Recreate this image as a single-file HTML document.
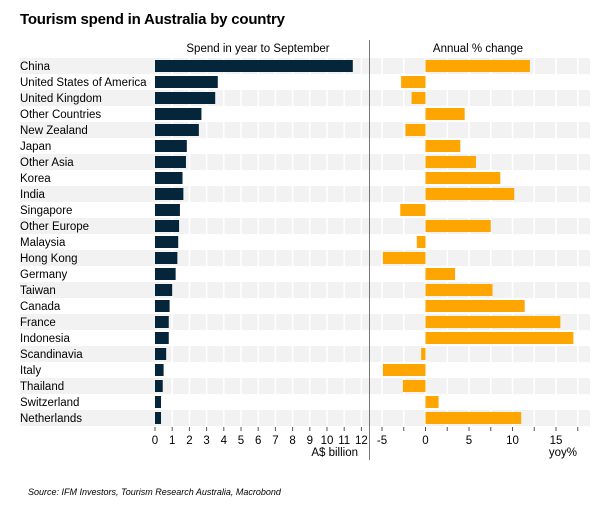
<!DOCTYPE html>
<html><head><meta charset="utf-8"><style>
body{margin:0;background:#fff;}
svg{display:block;font-family:"Liberation Sans",sans-serif;}
</style></head><body>
<svg id="chart" width="610" height="509">
<text x="20" y="24" font-size="15" font-weight="bold" fill="#000" textLength="265">Tourism spend in Australia by country</text>
<g id="stripes"></g>
<g id="grid"></g>
<text x="258" y="52" font-size="11.5" text-anchor="middle">Spend in year to September</text>
<text x="478" y="52" font-size="11.5" text-anchor="middle">Annual % change</text>
<line x1="369.5" y1="40" x2="369.5" y2="460" stroke="#777" stroke-width="1"/>
<g id="bars"></g>
<g id="axes"></g>
<text x="358" y="456" font-size="11.5" text-anchor="end">A$ billion</text>
<text x="577" y="456" font-size="11.5" text-anchor="end">yoy%</text>
<text x="28" y="495" font-size="9" font-style="italic">Source: IFM Investors, Tourism Research Australia, Macrobond</text>
</svg>
<script>
const countries=["China","United States of America","United Kingdom","Other Countries","New Zealand","Japan","Other Asia","Korea","India","Singapore","Other Europe","Malaysia","Hong Kong","Germany","Taiwan","Canada","France","Indonesia","Scandinavia","Italy","Thailand","Switzerland","Netherlands"];
const spend=[11.5,3.65,3.5,2.7,2.55,1.85,1.8,1.6,1.65,1.45,1.4,1.35,1.3,1.2,1.0,0.85,0.8,0.8,0.65,0.5,0.45,0.35,0.35];
const change=[12.0,-2.8,-1.6,4.5,-2.3,4.0,5.8,8.6,10.2,-2.9,7.5,-1.0,-4.9,3.4,7.7,11.4,15.5,17.0,-0.5,-4.9,-2.6,1.5,11.0];
const leftTicks=[0,1,2,3,4,5,6,7,8,9,10,11,12];
const rightTicks=[-5,0,5,10,15];
const rightMinor=[-5,-2.5,0,2.5,5,7.5,10,12.5,15,17.5];

const NS="http://www.w3.org/2000/svg";
const xL=v=>155+17.2*v;
const xR=v=>425.5+8.7*v;
const yRow=i=>58+16*i;
function mk(tag,attrs,parent){const e=document.createElementNS(NS,tag);for(const k in attrs)e.setAttribute(k,attrs[k]);document.getElementById(parent).appendChild(e);return e;}

countries.forEach((c,i)=>{
  if(i%2===0){
    const s=mk('rect',{x:20,y:yRow(i),width:570,height:16,fill:'#f2f2f2'},'stripes');
    
    
  }
  const t=mk('text',{x:20,y:yRow(i)+12,'font-size':11.5},'bars');
  t.textContent=c;
  
  
  const b=mk('rect',{x:xL(0),y:yRow(i)+2,width:xL(spend[i])-xL(0),height:12,fill:'#05263a'},'bars');
  
  
  const v=change[i];
  const r=mk('rect',{x:Math.min(xR(0),xR(v)),y:yRow(i)+2,width:Math.abs(xR(v)-xR(0)),height:12,fill:'#ffa500'},'bars');
  
  
});
const gy1=yRow(0), gy2=yRow(countries.length);
leftTicks.forEach(v=>{
  if(v===0)return;
  const l=mk('line',{x1:xL(v),y1:gy1,x2:xL(v),y2:gy2,stroke:'#fff','stroke-width':1.5},'grid');
  
  
});
rightMinor.forEach(v=>{
  const l=mk('line',{x1:xR(v),y1:gy1,x2:xR(v),y2:gy2,stroke:'#fff','stroke-width':1.5},'grid');
  
  
});
const ay=yRow(countries.length);
leftTicks.forEach(v=>{
  const l=mk('line',{x1:xL(v),y1:ay+1,x2:xL(v),y2:ay+5,stroke:'#555'},'axes');
  
  
  const t=mk('text',{x:xL(v),y:ay+18,'font-size':11.5,'text-anchor':'middle'},'axes');
  t.textContent=v;
  
  
});
rightMinor.forEach(v=>{
  const l=mk('line',{x1:xR(v),y1:ay+1,x2:xR(v),y2:ay+5,stroke:'#555'},'axes');
  
  
});
rightTicks.forEach(v=>{
  const t=mk('text',{x:xR(v),y:ay+18,'font-size':11.5,'text-anchor':'middle'},'axes');
  t.textContent=v;
  
  
});
</script>
</body></html>
